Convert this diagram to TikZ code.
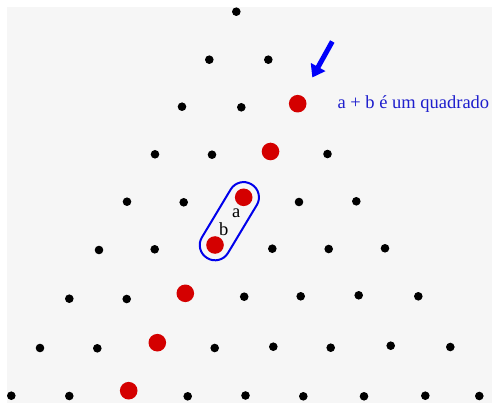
\documentclass[tikz,border=0pt]{standalone}
\usepackage{fontspec}
\setmainfont{Liberation Serif}
\usetikzlibrary{arrows.meta}
\definecolor{bgc}{RGB}{246,246,246}
\definecolor{dotred}{RGB}{212,0,0}
\definecolor{capblue}{RGB}{0,0,235}
\definecolor{arrblue}{RGB}{0,0,250}
\definecolor{txtblue}{RGB}{30,30,205}
\tikzset{
  bdot/.style={circle,fill=black,inner sep=0pt,minimum size=8.6pt},
  rdot/.style={circle,fill=dotred,inner sep=0pt,minimum size=17.6pt},
  lbl/.style={inner sep=0pt,anchor=base,font=\fontsize{18.5}{20}\selectfont},
  capsule/.style={draw=capblue,line width=2pt,rounded corners=15pt,minimum width=86pt,minimum height=30.4pt,inner sep=0pt},
  bigarrow/.style={draw=arrblue,line width=5pt,-{Triangle[width=16pt,length=12pt]}}
}
\begin{document}
\begin{tikzpicture}[x=1pt,y=-1pt]
\useasboundingbox (0,0) rectangle (492,403);
\fill[bgc] (7,7) rectangle (492,403);
% black dots
\foreach \x/\y [count=\i] in {
  236.3/11.7,
  209.3/59.7, 268.3/59.7,
  182/106.7, 241.3/107.3,
  155/154.3, 212/154.7, 327.5/154,
  127/201.7, 183.7/202.3, 299/202, 356.3/201.3,
  99/250, 154.7/249.3, 272.3/248.7, 328.7/249, 385/248.3,
  69.3/298.7, 126.7/299, 244.2/296.7, 300.7/296.3, 358.7/295.3, 418.3/296.3,
  40/348, 97.3/348.3, 214.7/348, 273.3/346.7, 330.7/347.7, 390.7/345.7, 450.3/347,
  11.3/395.7, 69.3/396, 187.7/396.3, 245.5/395.5, 303.3/396.3, 364/396.3, 425.3/395.7, 479.3/396}
  \node[bdot] (b\i) at (\x,\y) {};
% capsule around a and b
\node[capsule,rotate=59] (pair) at (229.35,221.2) {};
% red dots
\foreach \x/\y [count=\i] in {
  297.7/103.7, 270.5/151.5, 243.7/197.3, 215/245, 185.3/293.3, 157.3/342.7, 128.7/390.7}
  \node[rdot] (r\i) at (\x,\y) {};
% labels
\node[lbl] (la) at (236.2,217.7) {a};
\node[lbl] (lb) at (223.8,235.8) {b};
\node[lbl,anchor=base west,text=txtblue] (txt) at (337.3,108.7) {a + b é um quadrado};
% arrow
\coordinate (atail) at (332.3,41.5);
\coordinate (atip) at (312.3,77.5);
\draw[bigarrow] (atail) -- (atip);
\end{tikzpicture}
\end{document}
